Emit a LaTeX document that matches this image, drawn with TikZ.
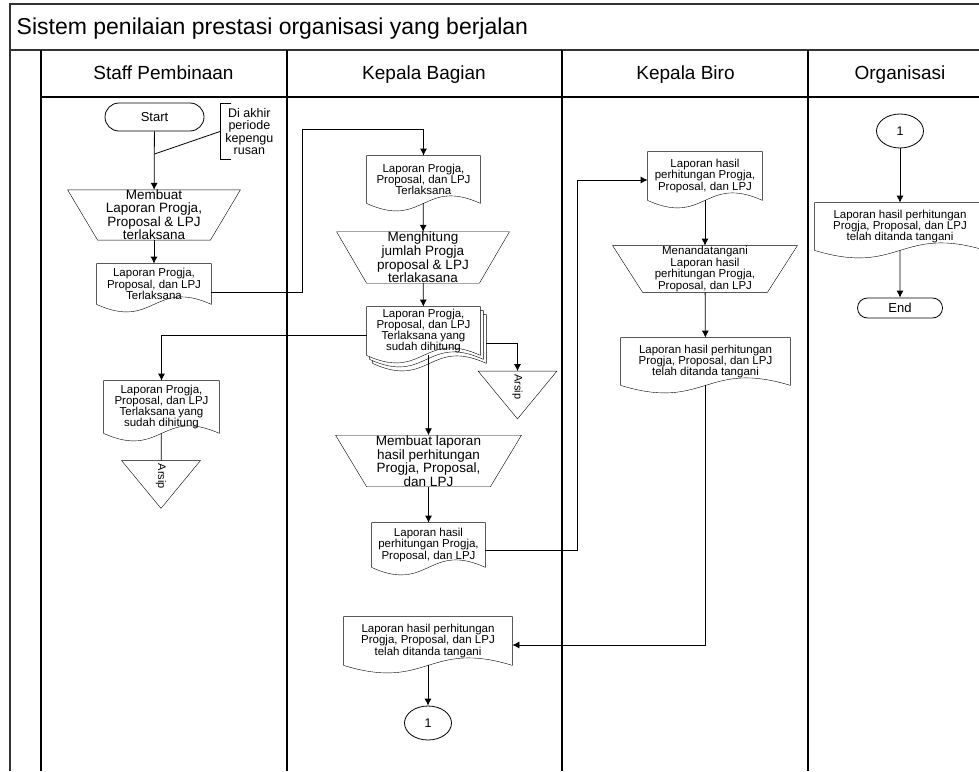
\documentclass[tikz,border=0pt]{standalone}
\usepackage{fontspec}
\setmainfont{Liberation Sans}
\usetikzlibrary{calc}
\usetikzlibrary{arrows.meta}
\usetikzlibrary{shapes}
\usetikzlibrary{backgrounds}

% outline of a document symbol, shifted by (#2,#3)
\newcommand\docshape[3]{\draw[fill=white] ($(#1.north west)+(#2,#3)$) -- ($(#1.north east)+(#2,#3)$) -- ($(#1.south east)+(#2,#3)$) .. controls ($(#1.south)+(#2,#3-26)$) and ($(#1.south)+(#2,#3+26)$) .. ($(#1.south west)+(#2,#3)$) -- cycle;}
% outline of a manual operation, bottom inset #2
\newcommand\mopshape[2]{\draw[fill=white] (#1.north west) -- (#1.north east) -- ($(#1.south east)+(-#2,0)$) -- ($(#1.south west)+(#2,0)$) -- cycle;}
\newcommand\mergeshape[1]{\draw[fill=white] (#1.north west) -- (#1.north east) -- (#1.south) -- cycle;}

\begin{document}
\begin{tikzpicture}[x=1pt,y=-1pt,>={Latex[length=7pt,width=7pt]},line width=0.8pt,
  hdr/.style={anchor=base,font=\fontsize{19}{22}\selectfont},
  term/.style 2 args={rounded rectangle,draw,minimum width=#1,minimum height=#2,inner sep=0pt,font=\fontsize{13}{13}\selectfont},
  doc/.style 2 args={minimum width=#1,minimum height=#2,inner sep=1pt,align=center,font=\fontsize{11.5}{11.3}\selectfont},
  mop/.style 2 args={minimum width=#1,minimum height=#2,inner sep=0pt,align=center,font=\fontsize{13.5}{12.5}\selectfont},
  merge/.style={minimum width=78pt,minimum height=47pt,inner sep=0pt,label={[yshift=8pt,font=\fontsize{11}{11}\selectfont]center:\rotatebox{-90}{Arsip}}},
  conn/.style={ellipse,draw,minimum width=47pt,minimum height=34pt,inner sep=0pt,font=\fontsize{12.5}{12.5}\selectfont},
  annot/.style={anchor=west,minimum height=55pt,inner xsep=5pt,align=center,font=\fontsize{12.5}{12.3}\selectfont}]

\useasboundingbox (0,0) rectangle (979,771);

% frame and lanes
\draw [line width=2pt,black!80] (10,4) -- (990,4);
\draw [line width=2pt,black!80] (10,3) -- (10,771);
\draw [line width=2pt,black!80] (10,50) -- (990,50);
\draw [line width=1.2pt] (41,50) -- (41,771);
\draw [line width=1.2pt] (41,97) -- (990,97);
\draw [line width=1.2pt] (287,50) -- (287,771);
\draw [line width=1.2pt] (562,50) -- (562,771);
\draw [line width=1.2pt] (808,50) -- (808,771);

\node [anchor=base west,font=\fontsize{23}{27}\selectfont] (title) at (13,34) {Sistem penilaian prestasi organisasi yang berjalan};
\node [hdr] (h1) at (163.5,79) {Staff Pembinaan};
\node [hdr] (h2) at (424,79) {Kepala Bagian};
\node [hdr] (h3) at (685.5,79) {Kepala Biro};
\node [hdr] (h4) at (900,79) {Organisasi};

% Staff Pembinaan
\node [term={99pt}{28pt}] (start) at (154.5,117) {Start};
\node [annot] (note) at (220,131.5) {Di akhir\\periode\\kepengu\\rusan};
\coordinate (nj) at (154.5,154);
\node [mop={172pt}{46pt}] (smk) at (154,215) {Membuat\\Laporan Progja,\\Proposal \& LPJ\\terlaksana};
\node [doc={114pt}{40pt}] (sdoc1) at (154,284) {Laporan Progja,\\Proposal, dan LPJ\\Terlaksana};
\node [doc={115pt}{52pt}] (sdoc2) at (161.5,407) {Laporan Progja,\\Proposal, dan LPJ\\Terlaksana yang\\sudah dihitung};
\node [merge] (sarsip) at (161,484.5) {};

% Kepala Bagian
\node [doc={113pt}{47pt}] (kdoc1) at (423.5,179.5) {Laporan Progja,\\Proposal, dan LPJ\\Terlaksana};
\node [mop={172pt}{47pt}] (kmk) at (423,257.5) {Menghitung\\jumlah Progja\\proposal \& LPJ\\terlakasana};
\node [doc={113pt}{48pt}] (kmd) at (423.5,331) {Laporan Progja,\\Proposal, dan LPJ\\Terlaksana yang\\sudah dihitung};
\node [merge] (karsip) at (517.5,395) {};
\node [mop={185pt}{46pt}] (kmk2) at (428.5,461) {Membuat laporan\\hasil perhitungan\\Progja, Proposal,\\dan LPJ};
\node [doc={113pt}{44pt}] (kdoc3) at (428.5,545) {Laporan hasil\\perhitungan Progja,\\Proposal, dan LPJ};
\node [doc={168pt}{48pt}] (kdoc4) at (428,641) {Laporan hasil perhitungan\\Progja, Proposal, dan LPJ\\telah ditanda tangani};
\node [conn] (kcon) at (428,723) {1};

% Kepala Biro
\node [doc={114pt}{48pt}] (bdoc1) at (705,176) {Laporan hasil\\perhitungan Progja,\\Proposal, dan LPJ};
\node [mop={184pt}{46pt},font=\fontsize{11.5}{10.7}\selectfont] (bmk) at (705,269) {Menandatangani\\Laporan hasil\\perhitungan Progja,\\Proposal, dan LPJ};
\node [doc={169pt}{47pt}] (bdoc2) at (705.5,361.5) {Laporan hasil perhitungan\\Progja, Proposal, dan LPJ\\telah ditanda tangani};

% Organisasi
\node [conn] (ocon) at (900,131) {1};
\node [doc={170pt}{47pt}] (odoc) at (900,226.5) {Laporan hasil perhitungan\\Progja, Proposal, dan LPJ\\telah ditanda tangani};
\node [term={85pt}{20pt}] (oend) at (900,308) {End};

\coordinate (b1) at (302,129);
\coordinate (b2) at (577,180);

\draw [->] (start) -- (smk);
\draw ([xshift=11pt]note.north west) -- (note.north west) -- (note.south west) -- ([xshift=11pt]note.south west);
\draw (note.west) -- (nj);
\draw [->] (smk) -- (sdoc1);
\draw [->] ([yshift=-8pt]sdoc1.east) -| (b1) -| (kdoc1);
\draw [->] (kdoc1) -- (kmk);
\draw [->] (kmk) -- (kmd);
\draw [->] ([yshift=-4pt]kmd.west) -| (sdoc2);
\draw (sdoc2) -- (sarsip);
\draw [->] ($(kmd.east)+(6,12)$) -| (karsip);
\draw [->] (kmd.south -| kmk2.north) -- (kmk2);
\draw [->] (kmk2) -- (kdoc3);
\draw [->] ([yshift=-5pt]kdoc3.east) -| (b2) -- (b2 -| bdoc1.west);
\draw [->] (bdoc1) -- (bmk);
\draw [->] (bmk) -- (bdoc2);
\draw [->] (bdoc2) |- ([yshift=-4pt]kdoc4.east);
\draw [->] (kdoc4) -- (kcon);
\draw [->] (ocon) -- (odoc);
\draw [->] (odoc) -- (oend);

\begin{scope}[on background layer]
\mopshape{smk}{30}
\mopshape{kmk}{30}
\mopshape{kmk2}{31}
\mopshape{bmk}{30}
\docshape{sdoc1}{0}{0}
\docshape{sdoc2}{0}{0}
\docshape{kdoc1}{0}{0}
\docshape{kmd}{6}{8}
\docshape{kmd}{3}{4}
\docshape{kmd}{0}{0}
\docshape{kdoc3}{0}{0}
\docshape{kdoc4}{0}{0}
\docshape{bdoc1}{0}{0}
\docshape{bdoc2}{0}{0}
\docshape{odoc}{0}{0}
\mergeshape{sarsip}
\mergeshape{karsip}
\end{scope}

\end{tikzpicture}
\end{document}
